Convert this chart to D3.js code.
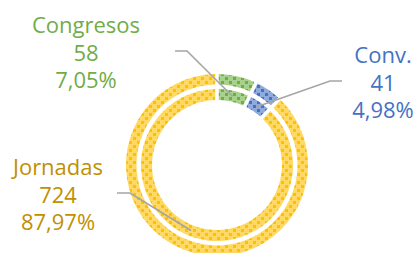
<!DOCTYPE html>
<html><head><meta charset="utf-8">
<script src="https://cdn.jsdelivr.net/npm/d3@7/dist/d3.min.js"></script>
<style>html,body{margin:0;padding:0;background:#fff;}svg{display:block;}</style>
</head><body>
<script>
const categories = ["Congresos", "Conv.", "Jornadas"];
const values = [58, 41, 724];
const percentLabels = ["7,05%", "4,98%", "87,97%"];
const ringSeries = ["outer", "inner"];

const W = 417, H = 253;
const cx = 217, cy = 165;
const baseColors = ["#a9d18e", "#8faadc", "#ffd966"];
const dotColors  = ["#70ad47", "#4472c4", "#ffc000"];
const textColors = ["#70ad47", "#4472c4", "#bf9000"];

const svg = d3.select("body").append("svg").attr("width", W).attr("height", H);
const defs = svg.append("defs");
categories.forEach((c, i) => {
  const p = defs.append("pattern").attr("id", "pat" + i)
    .attr("patternUnits", "userSpaceOnUse").attr("width", 8).attr("height", 8);
  p.append("rect").attr("width", 8).attr("height", 8).attr("fill", baseColors[i]);
  p.append("rect").attr("x", 0).attr("y", 0).attr("width", 3).attr("height", 3).attr("fill", dotColors[i]);
  p.append("rect").attr("x", 4).attr("y", 4).attr("width", 3).attr("height", 3).attr("fill", dotColors[i]);
});

const pie = d3.pie().sort(null).value(d => d)(values);
const radii = { outer: [80.5, 91], inner: [65, 76] };
const g = svg.append("g").attr("transform", `translate(${cx},${cy})`);

ringSeries.forEach(s => {
  const arc = d3.arc().innerRadius(radii[s][0]).outerRadius(radii[s][1])
    .padAngle(0.042).padRadius(85);
  g.append("g").selectAll("path").data(pie).join("path")
    .attr("d", arc).attr("fill", (d, i) => `url(#pat${i})`);
});

// leader lines + labels
const innerArc = d3.arc().innerRadius(radii.inner[0]).outerRadius(radii.inner[1]);
const labelPos = [
  { x: 86, y: 33, elbow: [[175, 51], [187, 51]] },
  { x: 383, y: 63, elbow: [[342, 81], [330, 81]] },
  { x: 58, y: 175, elbow: [[117, 193], [130, 193]] }
];
pie.forEach((d, i) => {
  const c = innerArc.centroid(d);
  const pts = labelPos[i].elbow.concat([[c[0] + cx, c[1] + cy]]);
  svg.append("path").attr("d", d3.line()(pts))
    .attr("fill", "none").attr("stroke", "#a5a5a5").attr("stroke-width", 1.6);
  const t = svg.append("text").attr("text-anchor", "middle")
    .attr("font-family", "'Open Sans', sans-serif").attr("font-size", 22)
    .attr("fill", textColors[i]);
  [categories[i], String(values[i]), percentLabels[i]].forEach((line, k) => {
    t.append("tspan").attr("x", labelPos[i].x).attr("y", labelPos[i].y + k * 27.5).text(line);
  });
});
</script>
</body></html>
